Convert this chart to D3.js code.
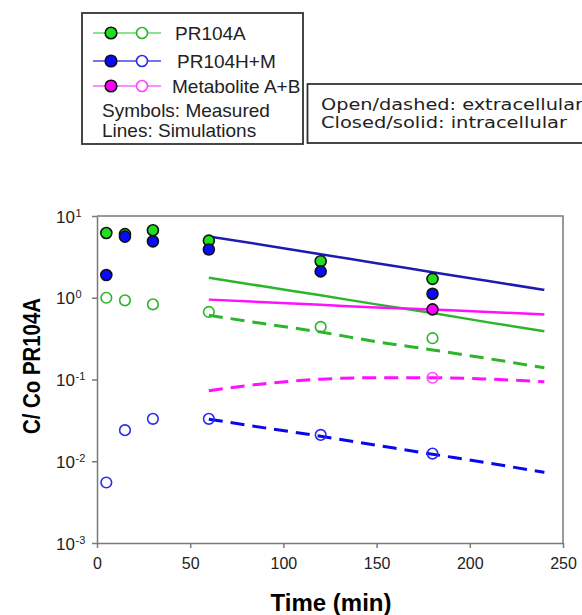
<!DOCTYPE html>
<html>
<head>
<meta charset="utf-8">
<script src="https://cdn.jsdelivr.net/npm/d3@7"></script>
<style>
  body { margin: 0; background: #fff; }
  svg { display: block; }
  .axis path, .axis line { stroke: #7a7a7a; stroke-width: 1.5; }
  .axis text { font-family: "Liberation Sans", Arial, sans-serif; fill: #222; }
</style>
</head>
<body>
<svg id="chart" width="582" height="615"></svg>
<script>
// measured points
const time = [5, 15, 30, 60, 120, 180];
const pr104aIntra = [6.2, 6.0, 6.7, 5.0, 2.8, 1.7];
const pr104aExtra = [1.0, 0.93, 0.83, 0.67, 0.44, 0.32];
const pr104hmIntra = [1.9, 5.6, 4.9, 3.9, 2.1, 1.12];
const pr104hmExtra = [0.0055, 0.024, 0.033, 0.033, 0.021, 0.0124];
const metabTime = [180];
const metabIntra = [0.72];
const metabExtra = [0.105];

// simulations
const simTime = [60, 90, 120, 150, 180, 210, 240];
const simPr104aIntra = [1.76, 1.37, 1.07, 0.83, 0.65, 0.50, 0.39];
const simPr104aExtra = [0.61, 0.48, 0.38, 0.29, 0.23, 0.18, 0.139];
const simPr104hmIntra = [5.6, 4.4, 3.4, 2.65, 2.05, 1.6, 1.25];
const simPr104hmExtra = [0.0327, 0.0256, 0.0202, 0.0157, 0.0122, 0.0095, 0.0073];
const simMetabIntra = [0.95, 0.88, 0.82, 0.76, 0.72, 0.67, 0.625];
const simMetabExtra = [0.073, 0.089, 0.101, 0.105, 0.105, 0.101, 0.094];

const xTicks = [0, 50, 100, 150, 200, 250];
const yTicks = [1e-3, 1e-2, 1e-1, 1, 10];
const yExp = [-3, -2, -1, 0, 1];
const legendLabels = ["PR104A", "PR104H+M", "Metabolite A+B"];

const col = {
  green: {fill: "#1fe01f", line: "#2ab52a", open: "#2ab52a", leg: "#66dd66"},
  blue: {fill: "#0a0aff", line: "#1c1cb0", dash: "#0808e8", open: "#2a2af0", leg: "#4a4ae0"},
  magenta: {fill: "#ff00ff", line: "#ff11ff", open: "#ff44ff", leg: "#ff66ff"}
};

const svg = d3.select("#chart");
const dim = {left: 97, right: 563, top: 216, bottom: 543};

const x = d3.scaleLinear().domain([0, 250]).range([dim.left, dim.right]);
const y = d3.scaleLog().domain([1e-3, 10]).range([dim.bottom, dim.top]);

// frame (top + right)
svg.append("path")
  .attr("d", `M${dim.left},${dim.top}H${dim.right}V${dim.bottom}`)
  .attr("fill", "none")
  .attr("stroke", "#7a7a7a")
  .attr("stroke-width", 1.5);

// x axis
const xAxis = svg.append("g")
  .attr("class", "axis")
  .attr("transform", `translate(0,${dim.bottom})`)
  .call(d3.axisBottom(x).tickValues(xTicks).tickSize(5).tickSizeOuter(0).tickFormat(d3.format("d")));
xAxis.selectAll("text").attr("font-size", 16).attr("dy", "1.15em");

// y axis
const yAxis = svg.append("g")
  .attr("class", "axis")
  .attr("transform", `translate(${dim.left},0)`)
  .call(d3.axisLeft(y).tickValues(yTicks).tickSize(5).tickSizeOuter(0).tickFormat(""));

yAxis.selectAll(".tick").each(function(d, i) {
  const t = d3.select(this).append("text")
    .attr("x", -22).attr("dy", 6)
    .attr("text-anchor", "end")
    .attr("font-size", 17)
    .text("10");
  d3.select(this).append("text")
    .attr("x", -21.5).attr("dy", 0)
    .attr("text-anchor", "start")
    .attr("font-size", 11)
    .text(yExp[i]);
});

// axis titles
svg.append("text")
  .attr("transform", "translate(40,366) rotate(-90)")
  .attr("text-anchor", "middle")
  .attr("font-family", "Liberation Sans, Arial, sans-serif")
  .attr("font-weight", "bold")
  .attr("font-size", 24)
  .attr("textLength", 136)
  .attr("lengthAdjust", "spacingAndGlyphs")
  .text("C/ Co PR104A");

svg.append("text")
  .attr("x", 331).attr("y", 611)
  .attr("text-anchor", "middle")
  .attr("font-family", "Liberation Sans, Arial, sans-serif")
  .attr("font-weight", "bold")
  .attr("font-size", 24)
  .text("Time (min)");

// simulation lines
const line = d3.line()
  .x(d => x(d[0]))
  .y(d => y(d[1]))
  .curve(d3.curveMonotoneX);

const sims = [
  {v: simPr104aIntra, c: col.green.line, dash: null},
  {v: simMetabIntra, c: col.magenta.line, dash: null},
  {v: simPr104hmIntra, c: col.blue.line, dash: null},
  {v: simPr104aExtra, c: col.green.line, dash: "14,8"},
  {v: simMetabExtra, c: col.magenta.line, dash: "14,8"},
  {v: simPr104hmExtra, c: col.blue.dash, dash: "14,8"}
];

svg.append("g").selectAll("path")
  .data(sims)
  .enter().append("path")
    .attr("d", s => line(simTime.map((t, i) => [t, s.v[i]])))
    .attr("fill", "none")
    .attr("stroke", s => s.c)
    .attr("stroke-width", s => s.dash ? 3 : 2.5)
    .attr("stroke-dasharray", s => s.dash);

// measured symbols
const pts = svg.append("g");
function drawOpen(tt, vals, c) {
  pts.selectAll(null)
    .data(tt.map((t, i) => [t, vals[i]]))
    .enter().append("circle")
      .attr("cx", d => x(d[0]))
      .attr("cy", d => y(d[1]))
      .attr("r", 5.3)
      .attr("fill", "none")
      .attr("stroke", c)
      .attr("stroke-width", 1.6);
}
function drawFilled(tt, vals, c) {
  pts.selectAll(null)
    .data(tt.map((t, i) => [t, vals[i]]))
    .enter().append("circle")
      .attr("cx", d => x(d[0]))
      .attr("cy", d => y(d[1]))
      .attr("r", 5.5)
      .attr("fill", c)
      .attr("stroke", "#111")
      .attr("stroke-width", 1.6);
}
drawOpen(time, pr104aExtra, col.green.open);
drawOpen(time, pr104hmExtra, col.blue.open);
drawOpen(metabTime, metabExtra, col.magenta.open);
drawFilled(time, pr104aIntra, col.green.fill);
drawFilled(time, pr104hmIntra, col.blue.fill);
drawFilled(metabTime, metabIntra, col.magenta.fill);

// legend box 1
const leg = svg.append("g");
leg.append("rect")
  .attr("x", 82).attr("y", 13).attr("width", 221).attr("height", 131)
  .attr("fill", "#fff").attr("stroke", "#333").attr("stroke-width", 1.8);

const legCols = [col.green, col.blue, col.magenta];
const legRowY = [33, 61, 86];
const legTextX = [175, 177, 172];
legendLabels.forEach((lab, i) => {
  const c = legCols[i];
  const yy = legRowY[i];
  leg.append("line")
    .attr("x1", 93).attr("x2", 161).attr("y1", yy).attr("y2", yy)
    .attr("stroke", c.leg).attr("stroke-width", 1.5);
  leg.append("circle")
    .attr("cx", 111).attr("cy", yy).attr("r", 5.8)
    .attr("fill", c.fill).attr("stroke", "#111").attr("stroke-width", 1.6);
  leg.append("circle")
    .attr("cx", 142).attr("cy", yy).attr("r", 5.5)
    .attr("fill", "#fff").attr("stroke", c.open).attr("stroke-width", 1.6);
  leg.append("text")
    .attr("x", legTextX[i]).attr("y", yy + 7)
    .attr("font-family", "Liberation Sans, Arial, sans-serif")
    .attr("font-size", 19)
    .attr("fill", "#222")
    .text(lab);
});
leg.append("text")
  .attr("x", 102).attr("y", 116.5)
  .attr("font-family", "Liberation Sans, Arial, sans-serif")
  .attr("font-size", 19).attr("fill", "#222")
  .text("Symbols: Measured");
leg.append("text")
  .attr("x", 102).attr("y", 136.5)
  .attr("font-family", "Liberation Sans, Arial, sans-serif")
  .attr("font-size", 19).attr("fill", "#222")
  .text("Lines: Simulations");

// legend box 2
const leg2 = svg.append("g");
leg2.append("rect")
  .attr("x", 307.5).attr("y", 84).attr("width", 300).attr("height", 59)
  .attr("fill", "#fff").attr("stroke", "#333").attr("stroke-width", 1.8);
leg2.append("text")
  .attr("x", 321).attr("y", 109.5)
  .attr("font-family", "DejaVu Sans, Verdana, sans-serif")
  .attr("font-size", 16).attr("fill", "#222")
  .attr("textLength", 262).attr("lengthAdjust", "spacingAndGlyphs")
  .text("Open/dashed: extracellular");
leg2.append("text")
  .attr("x", 321).attr("y", 127.5)
  .attr("font-family", "DejaVu Sans, Verdana, sans-serif")
  .attr("font-size", 16).attr("fill", "#222")
  .attr("textLength", 246).attr("lengthAdjust", "spacingAndGlyphs")
  .text("Closed/solid: intracellular");
</script>
</body>
</html>
